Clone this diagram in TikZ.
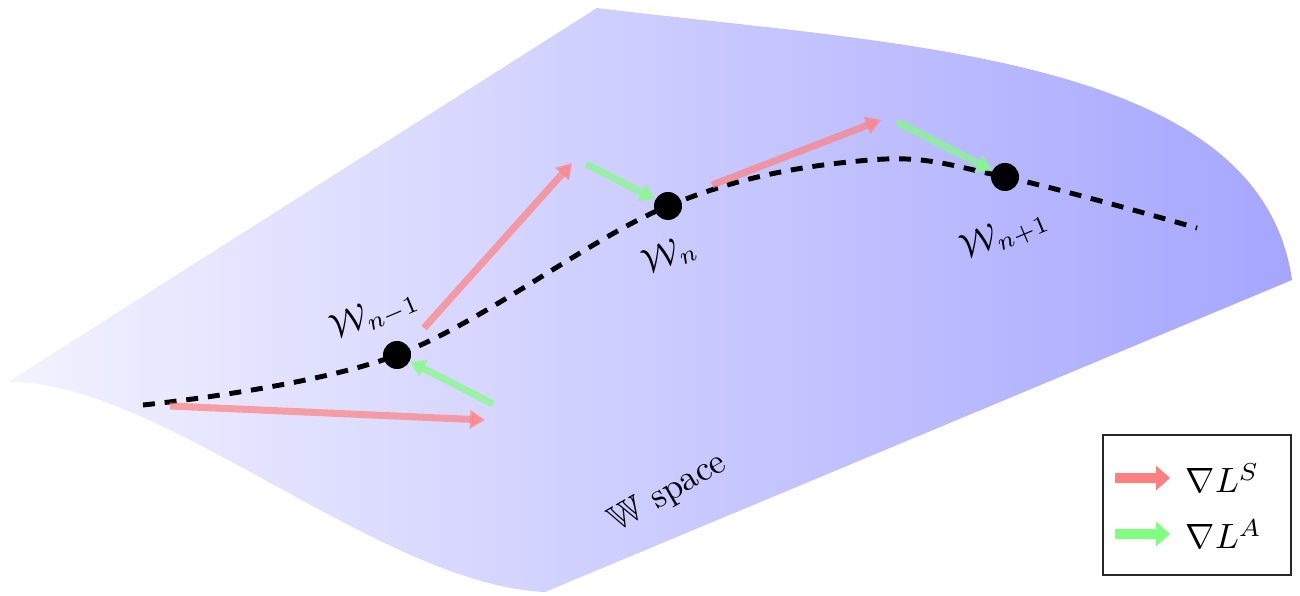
\documentclass[tikz,border=0pt]{standalone}
\usepackage{amssymb}
\usetikzlibrary{arrows.meta}

\begin{document}
\begin{tikzpicture}[
		punto/.style={circle, fill=black, inner sep=0pt, minimum size=0.28cm},
		curva/.style={line width=1.4pt, dash pattern=on 3.4pt off 2.8pt},
		etiqueta/.style={rotate=23},
		grad/.style={opacity=0.7, line width=2pt, -{Triangle[width=0.18cm,length=0.15cm]}},
		gradley/.style={line width=2.6pt, -{Triangle[width=0.24cm,length=0.14cm]}}
	]
		
		% Marco
		\useasboundingbox (0,0) rectangle (13,5.95);
		
		% Superficie
		\shade[left color=blue!5, right color=blue!35]
			(0.08,2.13) -- (5.97,5.87)
			.. controls (9.0,5.5) and (12.6,5.4) .. (12.92,3.15)
			-- (5.45,0.03)
			.. controls (3.8,0.1) and (1.6,2.15) .. (0.08,2.13) -- cycle;
		\node[rotate=30] (espacio) at (6.68,1.02) {$\mathbb{W}$ space};
		
		% Trayectoria
		\coordinate (inicio) at (1.43,1.90);
		\coordinate (pa) at (3.97,2.40);
		\coordinate (pb) at (6.68,3.89);
		\coordinate (pico) at (8.70,4.35);
		\coordinate (pc) at (10.05,4.18);
		\coordinate (fin) at (11.97,3.67);
		\draw[curva] plot[smooth, tension=0.6] coordinates {(inicio) (pa) (pb) (pico) (pc) (fin)};
		
		% Puntos
		\node[punto] (wa) at (pa) {};
		\node[punto] (wb) at (pb) {};
		\node[punto] (wc) at (pc) {};
		\node[etiqueta] (la) at (3.75,2.80) {$\mathcal{W}_{n-1}$};
		\node[etiqueta] (lb) at (6.70,3.40) {$\mathcal{W}_{n}$};
		\node[etiqueta] (lc) at (10.05,3.60) {$\mathcal{W}_{n+1}$};
		
		% Gradientes
		\coordinate (s1) at (1.70,1.89);
		\coordinate (t1) at (4.85,1.75);
		\coordinate (a1) at (4.93,1.91);
		\coordinate (s2) at (4.24,2.67);
		\coordinate (t2) at (5.72,4.32);
		\coordinate (a2) at (5.86,4.31);
		\coordinate (s3) at (7.12,4.10);
		\coordinate (t3) at (8.81,4.75);
		\coordinate (a3) at (8.97,4.73);
		\draw[grad, red!50] (s1) -- (t1);
		\draw[grad, green!50] (a1) -- (wa);
		\draw[grad, red!50] (s2) -- (t2);
		\draw[grad, green!50] (a2) -- (wb);
		\draw[grad, red!50] (s3) -- (t3);
		\draw[grad, green!50] (a3) -- (wc);
		
		% Leyenda
		\node[draw=black!85, line width=0.8pt, fill=white, minimum width=1.88cm, minimum height=1.40cm] (leyenda) at (11.97,0.90) {};
		\node[anchor=west, inner sep=0pt] (leyS) at (11.85,1.17) {$\nabla L^S$};
		\node[anchor=west, inner sep=0pt] (leyA) at (11.85,0.61) {$\nabla L^A$};
		\coordinate (flS) at (11.15,1.17);
		\coordinate (flA) at (11.15,0.61);
		\draw[gradley, red!50] (flS) -- ([xshift=-0.15cm]leyS.west);
		\draw[gradley, green!50] (flA) -- ([xshift=-0.15cm]leyA.west);
		
	\end{tikzpicture}
\end{document}
